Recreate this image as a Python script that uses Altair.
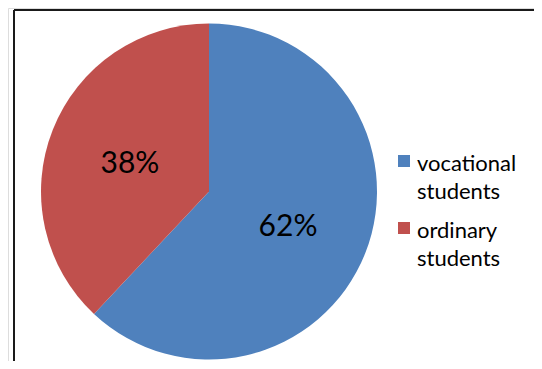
import altair as alt
import pandas as pd

categories = ["vocational students", "ordinary students"]
values = [62, 38]
order = [0, 1]
colors = ["#4F81BD", "#C0504D"]

df = pd.DataFrame({"category": categories, "value": values, "order": order})

color_scale = alt.Scale(domain=categories, range=colors)

base = alt.Chart(df).encode(
    theta=alt.Theta("value:Q", stack=True),
    order=alt.Order("order:Q"),
    x=alt.value(201),
    y=alt.value(183.5),
)

pie = base.mark_arc(outerRadius=168).encode(
    color=alt.Color("category:N", scale=color_scale, legend=None)
)

labels = base.transform_calculate(lbl="datum.value + '%'").mark_text(
    radius=85, font="Lato", fontSize=30, color="#000000", dy=4
).encode(text="lbl:N")

# manual legend (two-line labels)
legend_y = alt.Y(
    "order:O",
    scale=alt.Scale(type="point", domain=order, range=[153, 220], padding=0),
    axis=None,
)
leg_sym = alt.Chart(df).mark_square(size=144, opacity=1).encode(
    x=alt.value(396),
    y=legend_y,
    color=alt.Color("category:N", scale=color_scale, legend=None),
)
leg_txt = alt.Chart(df).transform_calculate(
    lines="split(datum.category, ' ')"
).mark_text(
    align="left", baseline="alphabetic", font="Lato", fontSize=22,
    lineHeight=28, dy=10, color="#000000"
).encode(
    x=alt.value(409),
    y=legend_y,
    text="lines:N",
)

frame = pd.DataFrame({"k": [0]})
left_rule = alt.Chart(frame).mark_rule(color="#1a1a1a", strokeWidth=2).encode(
    x=alt.value(6), y=alt.value(2), y2=alt.value(353)
)
top_rule = alt.Chart(frame).mark_rule(color="#1a1a1a", strokeWidth=2).encode(
    x=alt.value(6), x2=alt.value(526), y=alt.value(2)
)

chart = alt.layer(pie, labels, leg_sym, leg_txt, left_rule, top_rule).properties(
    width=526, height=353, padding=0, autosize=alt.AutoSizeParams(type="none")
).configure_view(stroke=None).configure(background="#ffffff")

chart.save("out.html", embed_options={"renderer": "svg", "actions": False})
